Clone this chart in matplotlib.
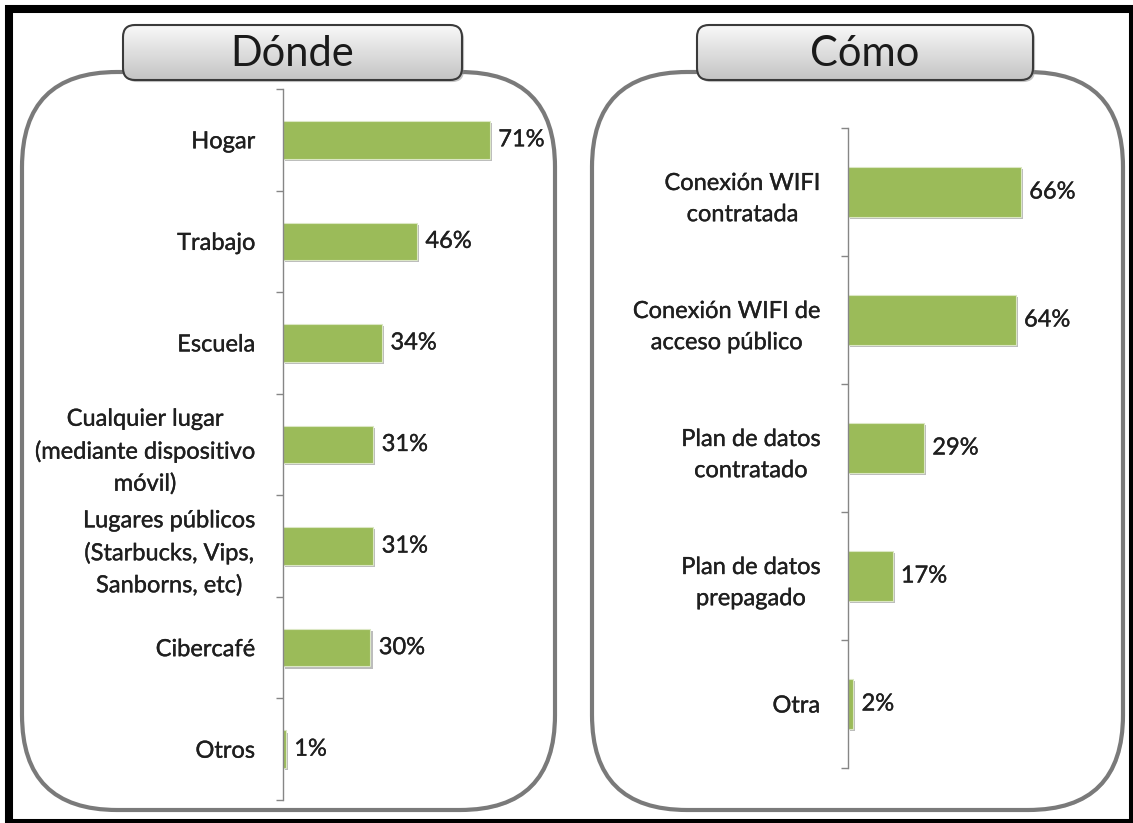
import matplotlib
matplotlib.use("Agg")
import matplotlib.pyplot as plt
import matplotlib.patheffects as pe
import numpy as np
from matplotlib.colors import LinearSegmentedColormap
from matplotlib.patches import FancyBboxPatch, Rectangle

plt.rcParams['font.family'] = ['Lato', 'DejaVu Sans']

donde_labels = ["Hogar", "Trabajo", "Escuela",
                "Cualquier lugar\n(mediante dispositivo\nmóvil)",
                "Lugares públicos\n(Starbucks, Vips,\nSanborns, etc)",
                "Cibercafé", "Otros"]
donde_values = [71, 46, 34, 31, 31, 30, 1]

como_labels = ["Conexión WIFI\ncontratada", "Conexión WIFI de\nacceso público",
               "Plan de datos\ncontratado", "Plan de datos\nprepagado", "Otra"]
como_values = [66, 64, 29, 17, 2]

W, H = 1133, 823
BAR = "#9bbb59"
TEXT = "#1f1f1f"
AXIS = "#868686"
FS = 17
# thicken the thin Lato strokes a touch, like the scanned Calibri
bold_fx = [pe.withStroke(linewidth=0.25, foreground=TEXT)]

fig = plt.figure(figsize=(W / 100, H / 100), dpi=100)
bg = fig.add_axes([0, 0, 1, 1], zorder=0)
bg.axis('off')

grad_cmap = LinearSegmentedColormap.from_list("tab", ["#f8f8f8", "#c4c4c4"])


def px_axes(x0, y0, x1, y1):
    return fig.add_axes([x0 / W, 1 - y1 / H, (x1 - x0) / W, (y1 - y0) / H], zorder=2)


def panel(x0, x1, tx0, tx1, title):
    box = FancyBboxPatch((x0, 72), x1 - x0, 810 - 72,
                         boxstyle="round,pad=0,rounding_size=95",
                         fc='white', ec='#7a7a7a', lw=3.0,
                         path_effects=[pe.SimplePatchShadow(offset=(1, -1), shadow_rgbFace='#aaaaaa', alpha=0.6),
                                       pe.Normal()])
    bg.add_patch(box)
    # title tab with grey gradient
    tab_bg = FancyBboxPatch((tx0, 25), tx1 - tx0, 55,
                            boxstyle="round,pad=0,rounding_size=12",
                            fc='#d0d0d0', ec='none',
                            path_effects=[pe.SimplePatchShadow(offset=(1.5, -1.5), shadow_rgbFace='#888888', alpha=0.5),
                                          pe.Normal()])
    bg.add_patch(tab_bg)
    grad = np.linspace(0, 1, 100).reshape(-1, 1)
    im = bg.imshow(grad, cmap=grad_cmap, extent=(tx0, tx1, 80, 25), aspect='auto', zorder=3)
    im.set_clip_path(tab_bg)
    tab = FancyBboxPatch((tx0, 25), tx1 - tx0, 55,
                         boxstyle="round,pad=0,rounding_size=12",
                         fc='none', ec='#3a3a3a', lw=1.5, zorder=4)
    bg.add_patch(tab)
    bg.text((tx0 + tx1) / 2, 54, title, fontsize=30, ha='center', va='center', color='#1a1a1a', zorder=5)


def bars(ax, labels, values, xmax, height):
    n = len(labels)
    y = np.arange(n)
    ax.barh(y, values, height=height, color=BAR, edgecolor='#dbe7c4', linewidth=0.8,
            path_effects=[pe.SimplePatchShadow(offset=(1.5, -1.5), shadow_rgbFace='#7a7a7a', alpha=0.5),
                          pe.Normal()])
    ax.set_ylim(n - 0.5, -0.5)
    ax.set_xlim(0, xmax)
    ax.set_facecolor('none')
    ax.set_yticks(np.arange(n + 1) - 0.5)
    ax.set_yticklabels([])
    ax.set_yticks(y, minor=True)
    ax.set_yticklabels(labels, minor=True, fontsize=FS, color=TEXT,
                       linespacing=1.6, multialignment='center', path_effects=bold_fx)
    ax.tick_params(axis='y', which='major', length=5, color=AXIS, width=1)
    ax.tick_params(axis='y', which='minor', length=0, pad=20)
    ax.set_xticks([])
    for s in ['top', 'right', 'bottom']:
        ax.spines[s].set_visible(False)
    ax.spines['left'].set_color(AXIS)
    ax.spines['left'].set_linewidth(1)
    for i, v in enumerate(values):
        ax.annotate(f"{v}%", (v, i), xytext=(6, 0), textcoords='offset points',
                    va='center', ha='left', fontsize=FS, color=TEXT, path_effects=bold_fx)


panel(22, 555, 123, 462, "Dónde")
panel(592, 1123, 697, 1033, "Cómo")

# black outer frame
bg.add_patch(Rectangle((9, 9), W - 9, H - 9, fill=False, ec='black', lw=5.8, zorder=6))

bg.set_xlim(0, W)
bg.set_ylim(H, 0)

ax1 = px_axes(283, 89, 545, 800)
bars(ax1, donde_labels, donde_values, (545 - 283) / 2.915, 0.37)

ax2 = px_axes(848, 128, 1100, 768)
bars(ax2, como_labels, como_values, (1100 - 848) / 2.62, 0.39)

fig.savefig("out.png", dpi=100)
